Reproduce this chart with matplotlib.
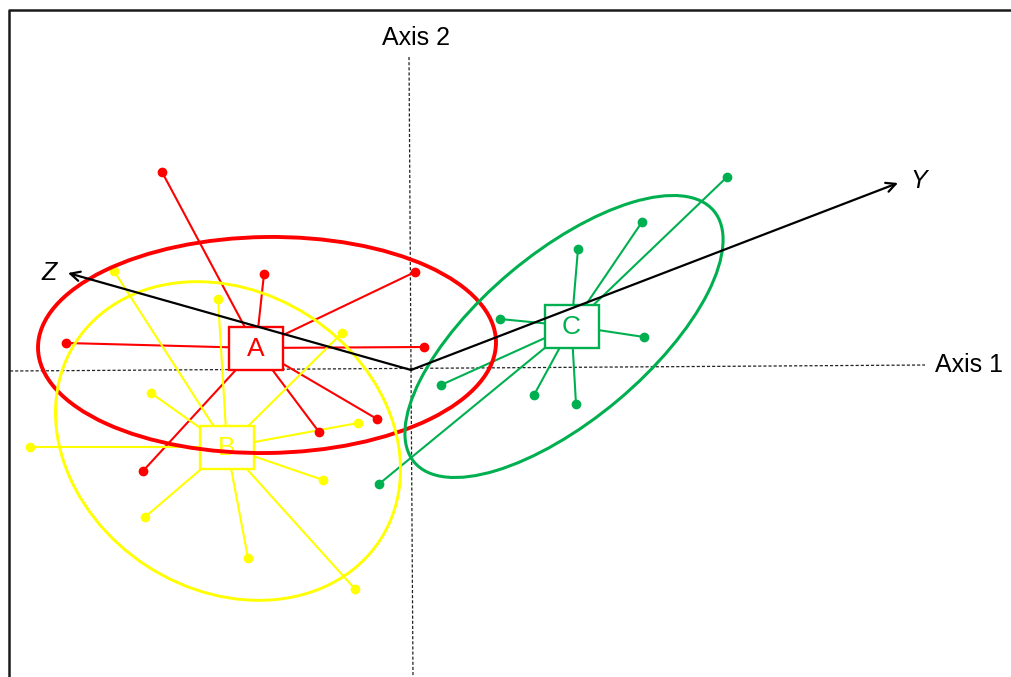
import matplotlib
matplotlib.use("Agg")
import matplotlib.pyplot as plt
from matplotlib.patches import Ellipse, Rectangle, FancyArrowPatch
from matplotlib.lines import Line2D

plt.rcParams['font.family'] = ['Liberation Sans', 'DejaVu Sans']

# Group labels and colours
groups = ["A", "B", "C"]
colors = {"A": "#FF0000", "B": "#FFFF00", "C": "#00B050"}

# Group centroids (Axis 1, Axis 2)
centroid_x = [-1.55, -1.84, 1.605]
centroid_y = [0.22, -0.77, 0.44]

# Individual scores per group
a_x = [-2.49, -1.47, 0.04, -3.45, 0.13, -2.68, -0.92, -0.34]
a_y = [1.98, 0.96, 0.98, 0.27, 0.23, -1.01, -0.62, -0.49]

b_x = [-2.97, -1.93, -0.69, -2.60, -3.81, -0.53, -0.88, -2.66, -1.63, -0.56]
b_y = [0.99, 0.71, 0.37, -0.23, -0.77, -0.53, -1.10, -1.47, -1.88, -2.19]

c_x = [3.16, 2.31, 1.67, 0.89, 2.33, 0.30, 1.23, 1.65, -0.32]
c_y = [1.93, 1.48, 1.21, 0.51, 0.33, -0.15, -0.25, -0.34, -1.14]

# Dispersion ellipses: centre x, centre y, width, height, angle (deg)
ell_cx = [-1.44, -1.83, 1.53]
ell_cy = [0.25, -0.71, 0.335]
ell_w = [4.58, 3.63, 3.91]
ell_h = [2.16, 2.98, 1.67]
ell_angle = [0.8, -33.0, 40.0]
ell_lw = [2.8, 2.1, 2.2]

# Variable vectors (tips)
vector_names = ["Y", "Z"]
vector_x = [4.87, -3.43]
vector_y = [1.87, 0.97]

# Reference axes (start, end)
axis1_x = [-4.01, 5.14]
axis1_y = [-0.01, 0.05]
axis2_x = [-0.02, 0.02]
axis2_y = [3.13, -3.07]

points = {"A": (a_x, a_y), "B": (b_x, b_y), "C": (c_x, c_y)}

fig = plt.figure(figsize=(10.11, 6.77), dpi=100)
ax = fig.add_axes([0, 0, 1, 1])
ax.set_xlim(-4.11, 6.00)
ax.set_ylim(-3.07, 3.70)
ax.axis("off")

# Frame around the plot (top and left edges fall inside the canvas)
ax.add_line(Line2D([-4.02, -4.02, 7.0], [-4.0, 3.60, 3.60],
                   color="#1a1a1a", lw=1.8, zorder=0.5))

# Dashed reference axes
dash = (0, (2.5, 1.6))
ax.plot(axis1_x, axis1_y, color="#222222", lw=0.9, linestyle=dash, zorder=1)
ax.plot(axis2_x, axis2_y, color="#222222", lw=0.9, linestyle=dash, zorder=1)
ax.text(axis1_x[1] + 0.1, 0.05, "Axis 1", fontsize=18, ha="left", va="center")
ax.text(0.05, 3.32, "Axis 2", fontsize=18, ha="center", va="center")

box_w, box_h = 0.54, 0.43

for i, g in enumerate(groups):
    col = colors[g]
    xs, ys = points[g]
    cx, cy = centroid_x[i], centroid_y[i]
    for x, y in zip(xs, ys):
        ax.plot([x, cx], [y, cy], color=col, lw=1.5, zorder=2,
                solid_capstyle="butt")
    ax.plot(xs, ys, "o", color=col, ms=6, zorder=2.5)
    ax.add_patch(Rectangle((cx - box_w / 2, cy - box_h / 2), box_w, box_h,
                           facecolor="white", edgecolor=col, lw=1.7, zorder=3))
    ax.text(cx, cy - 0.01, g, color=col, fontsize=19, ha="center", va="center",
            zorder=4)

for i, g in enumerate(groups):
    ax.add_patch(Ellipse((ell_cx[i], ell_cy[i]), ell_w[i], ell_h[i],
                         angle=ell_angle[i], fill=False,
                         edgecolor=colors[g], lw=ell_lw[i], zorder=5))

# Variable vectors from the origin
for name, vx, vy in zip(vector_names, vector_x, vector_y):
    ax.add_patch(FancyArrowPatch((0, 0), (vx, vy), arrowstyle="->",
                                 mutation_scale=17, color="black", lw=1.6,
                                 shrinkA=0, shrinkB=0, zorder=6))

ax.text(vector_x[0] + 0.12, vector_y[0] + 0.02, "Y", fontsize=18,
        style="italic", ha="left", va="center")
ax.text(vector_x[1] - 0.11, vector_y[1], "Z", fontsize=18,
        style="italic", ha="right", va="center")

fig.savefig("out.png", dpi=100)
